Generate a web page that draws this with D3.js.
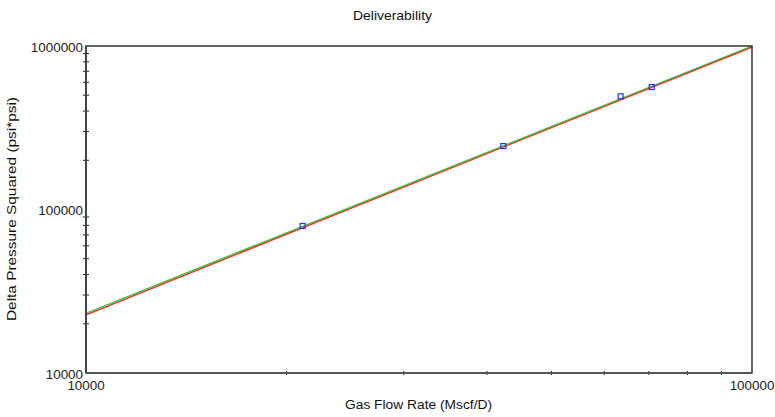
<!DOCTYPE html>
<html>
<head>
<meta charset="utf-8">
<script src="https://cdn.jsdelivr.net/npm/d3@7"></script>
<style>
  body { margin: 0; background: #fff; }
  svg { display: block; font-family: "Liberation Sans", Arial, sans-serif; }
</style>
</head>
<body>
<svg id="chart" width="775" height="417"></svg>
<script>
// Measured test points (gas flow rate, delta pressure squared)
const flowRates = [21150, 42330, 63500, 70700];
const deltaP2 = [79300, 244400, 492000, 561000];

// Deliverability fits, end points across the plotted flow range
const fitFlow = [10000, 100000];
const fitGreen = [23200, 1000000];
const fitRed = [22700, 985000];

const xTickLabels = [10000, 100000];
const yTickLabels = [10000, 100000, 1000000];

const svg = d3.select("#chart");
const margin = { left: 86, right: 23, top: 46, bottom: 44 };
const W = 775, H = 417;

const x = d3.scaleLog().domain([10000, 100000]).range([margin.left, W - margin.right]);
const y = d3.scaleLog().domain([10000, 1000000]).range([H - margin.bottom, margin.top]);

const x0 = x.range()[0], x1 = x.range()[1];
const y0 = y.range()[0], y1 = y.range()[1];

// Wide sans text: glyphs stretched horizontally to a per-character width
const digitW = 7.45;

// Minor ticks crossing the axes
const xMinor = [];
for (let m = 2; m <= 9; m++) xMinor.push(m * 10000);
const yMinor = [];
[10000, 100000].forEach(d => { for (let m = 2; m <= 9; m++) yMinor.push(m * d); });

svg.append("g").selectAll("line").data(xMinor).join("line")
  .attr("x1", d => x(d)).attr("x2", d => x(d))
  .attr("y1", y0 - 2).attr("y2", y0 + 2)
  .attr("stroke", "#222").attr("stroke-width", 1);

svg.append("g").selectAll("line").data(yMinor).join("line")
  .attr("x1", x0 - 3).attr("x2", x0 + 3)
  .attr("y1", d => y(d)).attr("y2", d => y(d))
  .attr("stroke", "#222").attr("stroke-width", 1);

// Fit lines
const line = d3.line().x(d => x(d[0])).y(d => y(d[1]));
svg.append("path")
  .datum(fitFlow.map((q, i) => [q, fitGreen[i]]))
  .attr("d", line).attr("fill", "none").attr("stroke", "#22cc22").attr("stroke-width", 1.3);
svg.append("path")
  .datum(fitFlow.map((q, i) => [q, fitRed[i]]))
  .attr("d", line).attr("fill", "none").attr("stroke", "#ee2222").attr("stroke-width", 1.3);

// Data markers
svg.append("g").selectAll("rect").data(flowRates).join("rect")
  .attr("x", (d) => x(d) - 2.5)
  .attr("y", (d, i) => y(deltaP2[i]) - 2.5)
  .attr("width", 5).attr("height", 5)
  .attr("fill", "none").attr("stroke", "#2233ff").attr("stroke-width", 1.2);

// Frame
svg.append("rect")
  .attr("x", x0).attr("y", y1)
  .attr("width", x1 - x0).attr("height", y0 - y1)
  .attr("fill", "none").attr("stroke", "#333").attr("stroke-width", 1.5);
svg.append("line").attr("x1", x0).attr("x2", x0).attr("y1", y1).attr("y2", y0)
  .attr("stroke", "#444").attr("stroke-width", 2);
svg.append("line").attr("x1", x0).attr("x2", x1).attr("y1", y0).attr("y2", y0)
  .attr("stroke", "#555").attr("stroke-width", 2);

// Tick labels
svg.append("g").selectAll("text").data(yTickLabels).join("text")
  .attr("x", x0 - 3).attr("y", d => y(d) + 5.5)
  .attr("text-anchor", "end").attr("font-size", 12).attr("fill", "#222")
  .attr("textLength", d => String(d).length * digitW)
  .attr("lengthAdjust", "spacingAndGlyphs")
  .text(d => d);

svg.append("g").selectAll("text").data(xTickLabels).join("text")
  .attr("x", d => x(d)).attr("y", y0 + 17)
  .attr("text-anchor", "middle").attr("font-size", 12).attr("fill", "#222")
  .attr("textLength", d => String(d).length * digitW)
  .attr("lengthAdjust", "spacingAndGlyphs")
  .text(d => d);

// Titles
svg.append("text").attr("x", 392.5).attr("y", 20)
  .attr("text-anchor", "middle").attr("font-size", 13).attr("fill", "#111")
  .attr("textLength", 79).attr("lengthAdjust", "spacingAndGlyphs")
  .text("Deliverability");

svg.append("text").attr("x", 418.5).attr("y", 409)
  .attr("text-anchor", "middle").attr("font-size", 12).attr("fill", "#111")
  .attr("textLength", 147).attr("lengthAdjust", "spacingAndGlyphs")
  .text("Gas Flow Rate (Mscf/D)");

svg.append("text")
  .attr("transform", `translate(16,209) rotate(-90)`)
  .attr("text-anchor", "middle").attr("font-size", 12).attr("fill", "#111")
  .attr("textLength", 224).attr("lengthAdjust", "spacingAndGlyphs")
  .text("Delta Pressure Squared (psi*psi)");
</script>
</body>
</html>
